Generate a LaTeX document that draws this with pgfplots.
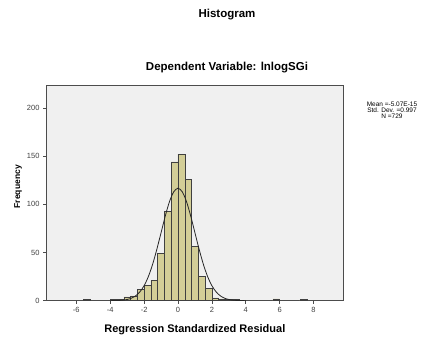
\documentclass[border=0pt]{standalone}
\usepackage{pgfplots}
\pgfplotsset{compat=1.18}
\usepackage{fontspec}
\setmainfont{Liberation Sans}
\definecolor{bgc}{RGB}{240,240,240}
\definecolor{barc}{RGB}{211,206,151}
\begin{document}
\begin{tikzpicture}[x=1pt,y=1pt]
\path[use as bounding box] (0,0) rectangle (427,338);
\begin{axis}[
  at={(46pt,37.3pt)}, anchor=south west,
  width=297.7pt, height=215pt, scale only axis,
  xmin=-7.79, xmax=9.78, ymin=0, ymax=223,
  axis background/.style={fill=bgc},
  axis line style={draw=black!70, line width=0.6pt},
  xtick={-6,-4,...,8}, ytick={0,50,...,200},
  tick align=outside, tick pos=left,
  major tick length=3pt,
  tick style={draw=black!70, line width=0.6pt},
  ticklabel style={font=\fontsize{7.5}{8}\selectfont, text=black!75},
  /pgf/number format/assume math mode=true,
  xlabel={Regression Standardized Residual},
  ylabel={Frequency},
  xlabel style={at={(rel axis cs:0.5,-0.136)}, anchor=center, font=\bfseries\fontsize{11}{12}\selectfont},
  ylabel style={at={(rel axis cs:-0.094,0.53)}, anchor=center, font=\bfseries\fontsize{8.5}{10}\selectfont},
]
\addplot[ybar, bar width=0.4, bar shift=0pt, fill=barc, draw=black!75, line width=0.5pt] coordinates {
(-5.4,1) (-3.8,1) (-3.4,1) (-3.0,4) (-2.6,5) (-2.2,12) (-1.8,16) (-1.4,21)
(-1.0,49) (-0.6,93) (-0.2,144) (0.2,152) (0.6,126) (1.0,56) (1.4,25)
(1.8,13) (2.2,3) (2.6,2) (3.0,1) (3.4,1) (5.8,2) (7.4,1)
};
\addplot[smooth, black!85, line width=0.8pt] coordinates {
(-4,0.037) (-3.75,0.099) (-3.5,0.246) (-3.25,0.575) (-3,1.26) (-2.75,2.60)
(-2.5,5.03) (-2.25,9.14) (-2,15.6) (-1.75,25.0) (-1.5,37.6) (-1.25,53.2)
(-1,70.5) (-0.75,87.9) (-0.5,102.9) (-0.25,113.0) (0,116.7) (0.25,113.0)
(0.5,102.9) (0.75,87.9) (1,70.5) (1.25,53.2) (1.5,37.6) (1.75,25.0)
(2,15.6) (2.25,9.14) (2.5,5.03) (2.75,2.60) (3,1.26) (3.25,0.575)
(3.5,0.246) (3.75,0.099) (4,0.037)
};
\end{axis}
\node[font=\bfseries\fontsize{11.5}{13}\selectfont] at (227,323) {Histogram};
\node[font=\bfseries\fontsize{11.5}{13}\selectfont] at (227,270) {Dependent Variable: lnlogSGi};
\node[align=center, font=\fontsize{6.5}{6}\selectfont] at (392,227.3) {Mean =-5.07E-15\\Std. Dev. =0.997\\N =729};
\end{tikzpicture}
\end{document}
